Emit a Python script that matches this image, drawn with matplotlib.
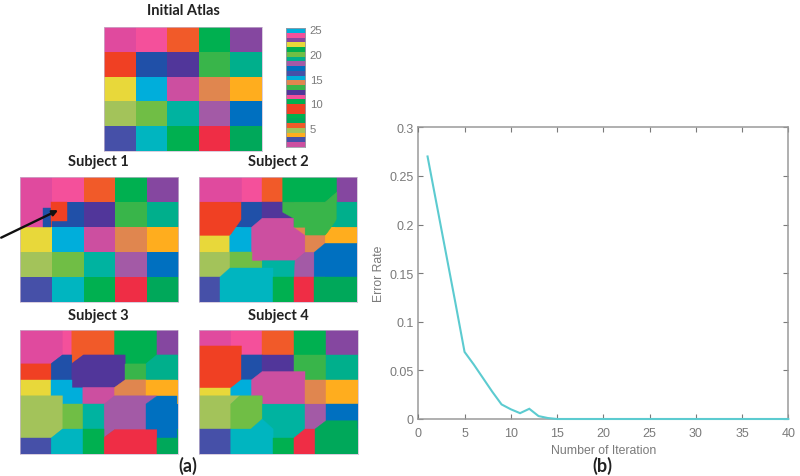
import matplotlib
matplotlib.use("Agg")
import matplotlib.pyplot as plt
from matplotlib.colors import to_rgb
from matplotlib.patches import Polygon
import numpy as np

W, H = 800, 477

PALETTE = dict(
    mag="#E04A9E", pink="#F4509B", org="#F15A29", grn="#00B050", pur="#8547A0",
    red="#F04023", nav="#2050A8", dkp="#51369A", gr2="#39B54A", tea="#00AF8C",
    yel="#E8D83A", cya="#00AEDB", mg2="#CC4FA0", tan="#E0864F", amb="#FFAD1E",
    lim="#A3C35A", gr3="#70BE45", te2="#00B3A0", pu2="#A35AA6", blu="#0070C0",
    ind="#4650A8", cy2="#00B5C0", gr4="#00B050", rd2="#EF2D45", gr5="#00A85A",
)

atlas_grid = [
    ["mag", "pink", "org", "grn", "pur"],
    ["red", "nav", "dkp", "gr2", "tea"],
    ["yel", "cya", "mg2", "tan", "amb"],
    ["lim", "gr3", "te2", "pu2", "blu"],
    ["ind", "cy2", "gr4", "rd2", "gr5"],
]

colorbar_names = ["mg2", "ind", "amb", "lim", "org", "gr5", "grn", "red", "red", "grn",
                  "pink", "dkp", "gr2", "tan", "cya", "ind", "blu", "pu2", "tea", "gr3",
                  "grn", "yel", "pur", "pink", "cya"]
colorbar_ticks = [5, 10, 15, 20, 25]

subject1_regions = [
    ("mag", [(58, 160), (153, 160), (153, 178), (130, 178), (130, 234), (58, 234)]),
    ("nav", [(130, 178), (153, 178), (153, 234), (130, 234)]),
    ("red", [(153, 160), (200, 160), (200, 215), (153, 215)]),
]

subject2_regions = [
    ("mag", [(28, 85), (155, 85), (155, 160), (28, 160)]),
    ("pink", [(155, 85), (217, 85), (217, 160), (155, 160)]),
    ("org", [(217, 85), (278, 85), (278, 160), (217, 160)]),
    ("grn", [(278, 85), (440, 85), (440, 130), (405, 160), (278, 160)]),
    ("pur", [(440, 85), (500, 85), (500, 160), (440, 160)]),
    ("red", [(28, 160), (155, 160), (155, 210), (120, 260), (28, 260)]),
    ("nav", [(155, 160), (217, 160), (217, 208), (185, 235), (155, 235), (155, 210)]),
    ("dkp", [(217, 160), (278, 160), (278, 208), (217, 208)]),
    ("gr2", [(278, 160), (405, 160), (440, 130), (440, 210), (405, 260), (345, 260),
             (345, 235), (310, 235), (310, 208), (278, 190)]),
    ("tea", [(440, 160), (500, 160), (500, 235), (435, 235), (440, 210)]),
    ("yel", [(28, 260), (120, 260), (120, 310), (28, 310)]),
    ("cya", [(120, 260), (155, 235), (185, 235), (185, 310), (120, 310)]),
    ("mg2", [(185, 235), (217, 208), (310, 208), (310, 235), (345, 260), (345, 310),
             (315, 335), (185, 335)]),
    ("tan", [(345, 260), (405, 260), (405, 280), (372, 310), (345, 310)]),
    ("amb", [(405, 260), (435, 235), (500, 235), (500, 283), (405, 283)]),
    ("lim", [(28, 310), (120, 310), (120, 350), (90, 383), (28, 383)]),
    ("gr3", [(120, 310), (185, 310), (185, 335), (217, 335), (217, 358), (120, 358)]),
    ("te2", [(217, 335), (315, 335), (313, 383), (248, 383), (248, 358), (217, 358)]),
    ("pu2", [(345, 310), (372, 310), (372, 383), (313, 383), (315, 335)]),
    ("blu", [(372, 310), (405, 283), (500, 283), (500, 383), (372, 383)]),
    ("ind", [(28, 383), (90, 383), (90, 458), (28, 458)]),
    ("cy2", [(120, 358), (248, 358), (248, 458), (90, 458), (90, 383)]),
    ("gr4", [(248, 383), (313, 383), (313, 458), (248, 458)]),
    ("rd2", [(313, 383), (372, 383), (372, 458), (313, 458)]),
    ("gr5", [(372, 383), (500, 383), (500, 458), (372, 458)]),
]

subject3_regions = [
    ("mag", [(58, 77), (187, 77), (187, 152), (153, 178), (58, 178)]),
    ("pink", [(187, 77), (215, 77), (215, 152), (187, 152)]),
    ("org", [(215, 77), (343, 77), (343, 152), (250, 152), (215, 178)]),
    ("grn", [(343, 77), (470, 77), (470, 152), (438, 178), (375, 178), (375, 152), (343, 152)]),
    ("pur", [(470, 77), (532, 77), (532, 152), (470, 152)]),
    ("red", [(58, 178), (153, 178), (153, 227), (58, 227)]),
    ("nav", [(153, 178), (187, 152), (215, 152), (215, 227), (153, 227)]),
    ("dkp", [(215, 178), (250, 152), (375, 152), (375, 227), (343, 250), (215, 250)]),
    ("gr2", [(375, 178), (438, 178), (438, 227), (375, 227)]),
    ("tea", [(438, 178), (470, 152), (532, 152), (532, 227), (438, 227)]),
    ("yel", [(58, 227), (153, 227), (153, 275), (58, 275)]),
    ("cya", [(153, 227), (215, 227), (215, 250), (248, 250), (248, 300), (187, 300), (187, 275), (153, 275)]),
    ("mg2", [(248, 250), (343, 250), (343, 275), (312, 300), (248, 300)]),
    ("tan", [(343, 250), (375, 227), (438, 227), (438, 275), (343, 275)]),
    ("amb", [(438, 227), (532, 227), (532, 275), (438, 275)]),
    ("lim", [(58, 275), (187, 275), (187, 375), (153, 402), (58, 402)]),
    ("gr3", [(187, 300), (248, 300), (248, 375), (187, 375)]),
    ("te2", [(248, 300), (312, 300), (312, 375), (248, 375)]),
    ("pu2", [(343, 275), (470, 275), (438, 300), (438, 377), (343, 377), (312, 400), (312, 300)]),
    ("blu", [(470, 275), (532, 275), (532, 402), (470, 402), (470, 377), (438, 377), (438, 300)]),
    ("ind", [(58, 402), (153, 402), (153, 450), (58, 450)]),
    ("cy2", [(153, 402), (187, 375), (248, 375), (248, 450), (153, 450)]),
    ("gr4", [(248, 375), (312, 375), (312, 450), (248, 450)]),
    ("rd2", [(312, 400), (343, 377), (470, 377), (470, 450), (312, 450)]),
    ("gr5", [(470, 402), (532, 402), (532, 450), (470, 450)]),
]

subject4_regions = [
    ("mag", [(28, 77), (123, 77), (123, 125), (28, 125)]),
    ("pink", [(123, 77), (217, 77), (217, 152), (155, 152), (155, 125), (123, 125)]),
    ("org", [(217, 77), (312, 77), (312, 152), (217, 152)]),
    ("grn", [(312, 77), (408, 77), (408, 152), (312, 152)]),
    ("pur", [(408, 77), (502, 77), (502, 152), (408, 152)]),
    ("red", [(28, 125), (155, 125), (155, 225), (123, 252), (28, 252)]),
    ("nav", [(155, 152), (217, 152), (217, 202), (185, 227), (155, 227)]),
    ("dkp", [(217, 152), (312, 152), (312, 202), (217, 202)]),
    ("gr2", [(312, 152), (408, 152), (408, 227), (345, 227), (345, 202), (312, 202)]),
    ("tea", [(408, 152), (502, 152), (502, 227), (408, 227)]),
    ("yel", [(28, 252), (123, 252), (123, 275), (28, 275)]),
    ("cya", [(123, 252), (155, 227), (185, 227), (185, 275), (123, 275)]),
    ("mg2", [(185, 227), (217, 202), (345, 202), (345, 300), (217, 300), (217, 275), (185, 275)]),
    ("tan", [(345, 227), (408, 227), (408, 300), (345, 300)]),
    ("amb", [(408, 227), (502, 227), (502, 300), (408, 300)]),
    ("lim", [(28, 275), (150, 275), (123, 300), (123, 375), (28, 375)]),
    ("gr3", [(123, 300), (150, 275), (217, 275), (217, 345), (183, 375), (123, 375)]),
    ("te2", [(217, 300), (345, 300), (345, 375), (312, 402), (250, 402), (250, 375), (217, 345)]),
    ("pu2", [(345, 300), (408, 300), (408, 350), (375, 375), (345, 375)]),
    ("blu", [(408, 300), (502, 300), (502, 350), (408, 350)]),
    ("ind", [(28, 375), (123, 375), (123, 450), (28, 450)]),
    ("cy2", [(123, 375), (183, 375), (217, 345), (250, 375), (250, 450), (123, 450)]),
    ("gr4", [(250, 402), (312, 402), (312, 450), (250, 450)]),
    ("rd2", [(312, 402), (345, 375), (375, 375), (375, 450), (312, 450)]),
    ("gr5", [(375, 375), (408, 350), (502, 350), (502, 450), (375, 450)]),
]

iterations = list(range(1, 41))
error_rate = [0.27, 0.22, 0.17, 0.12, 0.069, 0.056, 0.042, 0.028, 0.015, 0.010, 0.006,
              0.0105, 0.003, 0.001, 0.0] + [0.0] * 25
x_ticks = [0, 5, 10, 15, 20, 25, 30, 35, 40]
y_ticks = [0, 0.05, 0.1, 0.15, 0.2, 0.25, 0.3]
y_tick_labels = ["0", "0.05", "0.1", "0.15", "0.2", "0.25", "0.3"]

TITLE_FONT = dict(family="Lato", weight="bold", fontsize=10.5, color="#222222")
PANEL_FONT = dict(family="Lato", weight="bold", fontsize=13, color="#222222")
GRAY = "#7A7A7A"
ARIAL = "Liberation Sans"

fig = plt.figure(figsize=(W / 100, H / 100), dpi=100, facecolor="white")


def px_axes(x0, y0, x1, y1):
    return fig.add_axes([x0 / W, 1 - y1 / H, (x1 - x0) / W, (y1 - y0) / H])


def fig_text(x, y, s, **kw):
    fig.text(x / W, 1 - y / H, s, ha="center", va="center", **kw)


def draw_panel(box, lims, regions=()):
    ax = px_axes(*box)
    rgb = np.array([[to_rgb(PALETTE[c]) for c in row] for row in atlas_grid])
    ax.imshow(rgb, extent=(lims[0], lims[1], lims[3], lims[2]), aspect="auto",
              interpolation="nearest")
    for name, verts in regions:
        c = PALETTE[name]
        ax.add_patch(Polygon(verts, closed=True, facecolor=c, edgecolor=c, linewidth=0.3))
    ax.set_xlim(lims[0], lims[1])
    ax.set_ylim(lims[3], lims[2])
    ax.set_xticks([])
    ax.set_yticks([])
    for s in ax.spines.values():
        s.set_color("#C9B9D0")
        s.set_linewidth(0.5)
    return ax


draw_panel((104, 28, 262, 152), (0, 5, 0, 5))
ax1 = draw_panel((19.5, 178, 178, 303), (58, 534, 85, 458), subject1_regions)
draw_panel((199, 178, 357, 303), (28, 500, 85, 458), subject2_regions)
draw_panel((19.5, 331, 177.5, 455), (58, 532, 77, 450), subject3_regions)
draw_panel((199, 331, 357.5, 455), (28, 502, 77, 450), subject4_regions)

ax1.annotate("", xy=(174, 184), xytext=(3, 266), annotation_clip=False,
             arrowprops=dict(arrowstyle="-|>", color="#111111", lw=1.7,
                             mutation_scale=8, shrinkA=0, shrinkB=0))

# colorbar
cax = px_axes(285.7, 29.3, 305, 148)
cb = np.array([[to_rgb(PALETTE[c])] for c in colorbar_names])
cax.imshow(cb, origin="lower", extent=(0, 1, 1.17, 25.14), aspect="auto", interpolation="nearest")
cax.set_xticks([])
cax.yaxis.tick_right()
cax.set_yticks(colorbar_ticks)
cax.tick_params(axis="y", length=0, pad=3.5, labelsize=8.2, labelcolor=GRAY)
for lab in cax.get_yticklabels():
    lab.set_family(ARIAL)
for s in cax.spines.values():
    s.set_color("#9A9AA5")
    s.set_linewidth(0.6)

# titles
fig_text(183, 11, "Initial Atlas", **TITLE_FONT)
fig_text(98.5, 162, "Subject 1", **TITLE_FONT)
fig_text(278, 162, "Subject 2", **TITLE_FONT)
fig_text(98.5, 316, "Subject 3", **TITLE_FONT)
fig_text(278, 316, "Subject 4", **TITLE_FONT)
fig_text(188, 466, "(a)", **PANEL_FONT)
fig_text(602, 466, "(b)", **PANEL_FONT)

# error plot
ax = px_axes(418.3, 128.3, 788.3, 420)
ax.spines["left"].set_zorder(1)
ax.plot(iterations, error_rate, color="#5CCBD0", lw=1.5, solid_joinstyle="miter", clip_on=False, zorder=3)
ax.set_xlim(0, 40)
ax.set_ylim(0, 0.3)
ax.set_xticks(x_ticks)
ax.set_yticks(y_ticks)
ax.set_yticklabels(y_tick_labels)
ax.tick_params(axis="both", direction="in", length=3.5, width=0.8, color=GRAY,
               labelcolor=GRAY, labelsize=9, top=True, right=True)
ax.tick_params(axis="x", pad=6)
ax.tick_params(axis="y", pad=3.5)
for lab in ax.get_xticklabels() + ax.get_yticklabels():
    lab.set_family(ARIAL)
for side, s in ax.spines.items():
    s.set_color("#9A9A9A")
    s.set_linewidth(1.1)
ax.set_xlabel("Number of Iteration", family=ARIAL, fontsize=8.8, color=GRAY, labelpad=3.5)
ax.set_ylabel("Error Rate", family=ARIAL, fontsize=8.8, color=GRAY, labelpad=3)

fig.savefig("out.png", dpi=100)
